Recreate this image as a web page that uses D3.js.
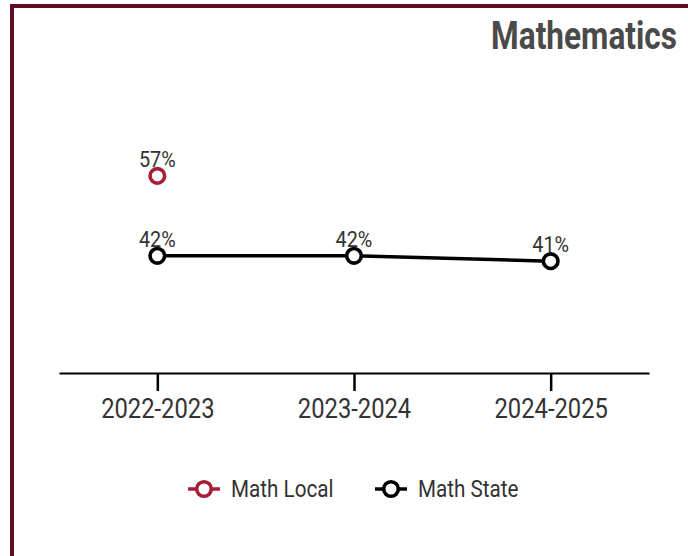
<!DOCTYPE html>
<html>
<head>
<meta charset="utf-8">
<script src="https://cdn.jsdelivr.net/npm/d3@7"></script>
<style>
  html, body { margin: 0; padding: 0; background: #fff; }
  svg { display: block; }
</style>
</head>
<body>
<svg id="chart" width="688" height="556"></svg>
<script>
// School years on the x axis
const years = ["2022-2023", "2023-2024", "2024-2025"];
// Percent proficient; null where no value was reported
const mathLocal = [57, null, null];
const mathState = [42, 42, 41];
const seriesNames = ["Math Local", "Math State"];
const seriesColors = ["#a51f36", "#000000"];
const title = "Mathematics";

const svg = d3.select("#chart");
const W = 688, H = 556;
const border = "#5e0f1f";
const textColor = "#333333";
const font = "Roboto, 'Noto Sans', sans-serif";
const squeeze = 0.88; // narrow the face to a condensed look

// frame: top and left rules
svg.append("rect").attr("x", 10).attr("y", 4).attr("width", W - 10).attr("height", 4).attr("fill", border);
svg.append("rect").attr("x", 10).attr("y", 4).attr("width", 4).attr("height", H - 4).attr("fill", border);

// title, squeezed to a condensed width
const titleText = svg.append("text")
  .attr("text-anchor", "end")
  .attr("font-family", font)
  .attr("font-weight", 700)
  .attr("font-size", 39)
  .attr("fill", "#4a4a4a")
  .text(title);
const natural = titleText.node().getComputedTextLength();
const titleScale = Math.min(1, 186 / natural);
titleText.attr("transform", `translate(677,49) scale(${titleScale},1)`);

const x = d3.scalePoint().domain(years).range([59, 649]).padding(0.5);
const y = d3.scaleLinear().domain([20, 75]).range([373, 80]);

// x axis
const axis = svg.append("g").attr("transform", "translate(0,373)")
  .call(d3.axisBottom(x).tickSize(18).tickSizeOuter(0));
axis.select(".domain").attr("stroke", "#000").attr("stroke-width", 2);
axis.selectAll(".tick line").attr("stroke", "#000").attr("stroke-width", 2.5);
axis.selectAll(".tick text")
  .attr("font-family", font)
  .attr("font-size", 27)
  .attr("fill", textColor)
  .attr("y", 0)
  .attr("dy", 0)
  .attr("transform", `translate(0,45) scale(${squeeze},1)`);

// series
const series = [mathLocal, mathState].map((vals, i) => ({
  name: seriesNames[i],
  color: seriesColors[i],
  points: years.map((yr, j) => ({ year: yr, value: vals[j] })).filter(p => p.value != null)
}));

const line = d3.line().x(p => x(p.year)).y(p => y(p.value));

series.forEach(s => {
  if (s.points.length > 1) {
    svg.append("path").datum(s.points)
      .attr("d", line)
      .attr("fill", "none")
      .attr("stroke", s.color)
      .attr("stroke-width", 3.5);
  }
  svg.selectAll(null).data(s.points).enter().append("circle")
    .attr("cx", p => x(p.year)).attr("cy", p => y(p.value))
    .attr("r", 7.3)
    .attr("fill", "#fff")
    .attr("stroke", s.color)
    .attr("stroke-width", 3.6);
  svg.selectAll(null).data(s.points).enter().append("text")
    .attr("transform", p => `translate(${x(p.year)},${y(p.value) - 9}) scale(${squeeze},1)`)
    .attr("text-anchor", "middle")
    .attr("font-family", font)
    .attr("font-size", 22.5)
    .attr("fill", textColor)
    .text(p => p.value + "%");
});

// legend
const legendX = [204, 391];
series.forEach((s, i) => {
  const g = svg.append("g").attr("transform", `translate(${legendX[i]},489)`);
  g.append("line").attr("x1", -16).attr("x2", 16).attr("y1", 0).attr("y2", 0)
    .attr("stroke", s.color).attr("stroke-width", 3.5);
  g.append("circle").attr("r", 7.3).attr("fill", "#fff")
    .attr("stroke", s.color).attr("stroke-width", 3.6);
  g.append("text")
    .attr("transform", `translate(27,8) scale(${squeeze},1)`)
    .attr("font-family", font)
    .attr("font-size", 23.5)
    .attr("fill", textColor)
    .text(s.name);
});
</script>
</body>
</html>
